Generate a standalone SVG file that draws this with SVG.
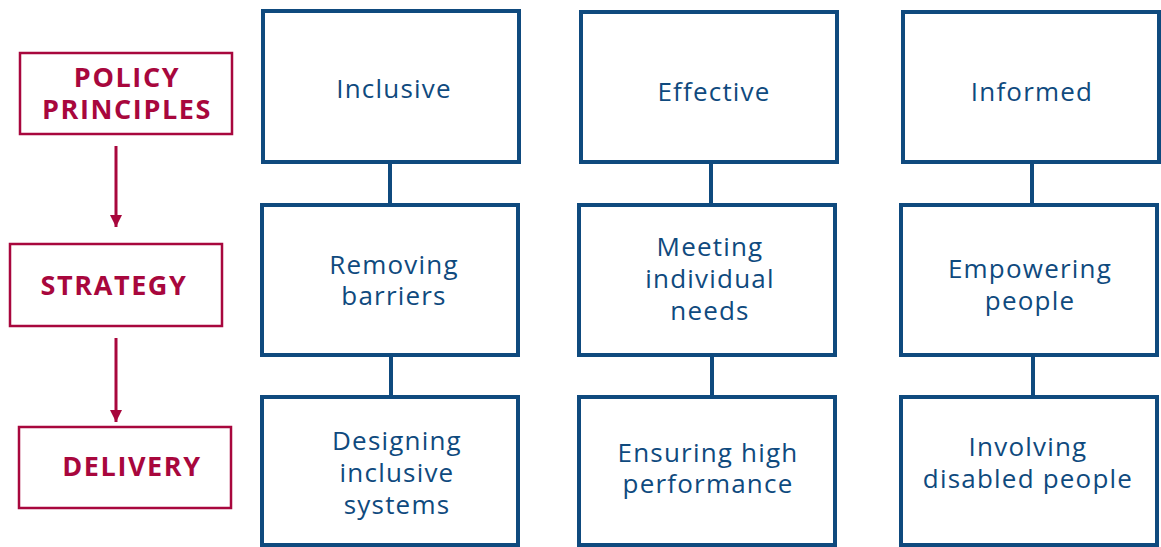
<svg xmlns="http://www.w3.org/2000/svg" width="1161" height="547" viewBox="0 0 1161 547">
<style>
.lab rect{fill:#fff;stroke:#a8073d;stroke-width:2.5}
.lab text{font-family:"Open Sans","Liberation Sans",sans-serif;font-weight:bold;font-size:27px;letter-spacing:1.6px;fill:#a8073d;text-anchor:middle}
.nd rect{fill:#fff;stroke:#0f4a7e;stroke-width:4}
.nd text{font-family:"Open Sans","Liberation Sans",sans-serif;font-size:26px;letter-spacing:1.2px;fill:#0f4a7e;text-anchor:middle}
.con line{stroke:#0f4a7e;stroke-width:4}
.arr line{stroke:#a8073d;stroke-width:3}
</style>
<defs>
<marker id="ah" viewBox="0 0 10 10" refX="10" refY="5" markerWidth="4" markerHeight="4" markerUnits="strokeWidth" orient="auto">
<path d="M0,0 L10,5 L0,10 z" fill="#a8073d"/>
</marker>
</defs>
<g id="connectors">
<g class="con">
<line x1="390" y1="162" x2="390" y2="204"/>
<line x1="391" y1="355" x2="391" y2="396"/>
<line x1="711" y1="162" x2="711" y2="204"/>
<line x1="712" y1="355" x2="712" y2="396"/>
<line x1="1032" y1="162" x2="1032" y2="204"/>
<line x1="1033" y1="355" x2="1033" y2="396"/>
</g>
<g class="arr">
<line x1="116" y1="146" x2="116" y2="227" marker-end="url(#ah)"/>
<line x1="116" y1="338" x2="116" y2="422" marker-end="url(#ah)"/>
</g>
</g>
<g id="policy" class="lab"><rect x="20" y="53" width="212" height="81"/><text x="127" y="87">POLICY</text><text x="127" y="119">PRINCIPLES</text></g>
<g id="strategy" class="lab"><rect x="10" y="244" width="212" height="82"/><text x="114" y="295">STRATEGY</text></g>
<g id="delivery" class="lab"><rect x="19" y="427" width="212" height="81"/><text x="132" y="476">DELIVERY</text></g>

<g id="inclusive" class="nd"><rect x="263" y="11" width="256" height="151"/><text x="394" y="98">Inclusive</text></g>
<g id="effective" class="nd"><rect x="581" y="12" width="256" height="150"/><text x="714" y="101">Effective</text></g>
<g id="informed" class="nd"><rect x="903" y="12" width="256" height="150"/><text x="1032" y="101">Informed</text></g>

<g id="removing" class="nd"><rect x="262" y="205" width="256" height="150"/><text x="394" y="274">Removing</text><text x="394" y="305">barriers</text></g>
<g id="meeting" class="nd"><rect x="579" y="205" width="256" height="150"/><text x="710" y="256">Meeting</text><text x="710" y="288">individual</text><text x="710" y="320">needs</text></g>
<g id="empowering" class="nd"><rect x="901" y="205" width="256" height="150"/><text x="1030" y="278">Empowering</text><text x="1030" y="310">people</text></g>

<g id="designing" class="nd"><rect x="262" y="397" width="256" height="148"/><text x="397" y="450">Designing</text><text x="397" y="482">inclusive</text><text x="397" y="514">systems</text></g>
<g id="ensuring" class="nd"><rect x="579" y="397" width="256" height="148"/><text x="708" y="462">Ensuring high</text><text x="708" y="493">performance</text></g>
<g id="involving" class="nd"><rect x="901" y="397" width="256" height="148"/><text x="1028" y="456">Involving</text><text x="1028" y="488">disabled people</text></g>
</svg>
